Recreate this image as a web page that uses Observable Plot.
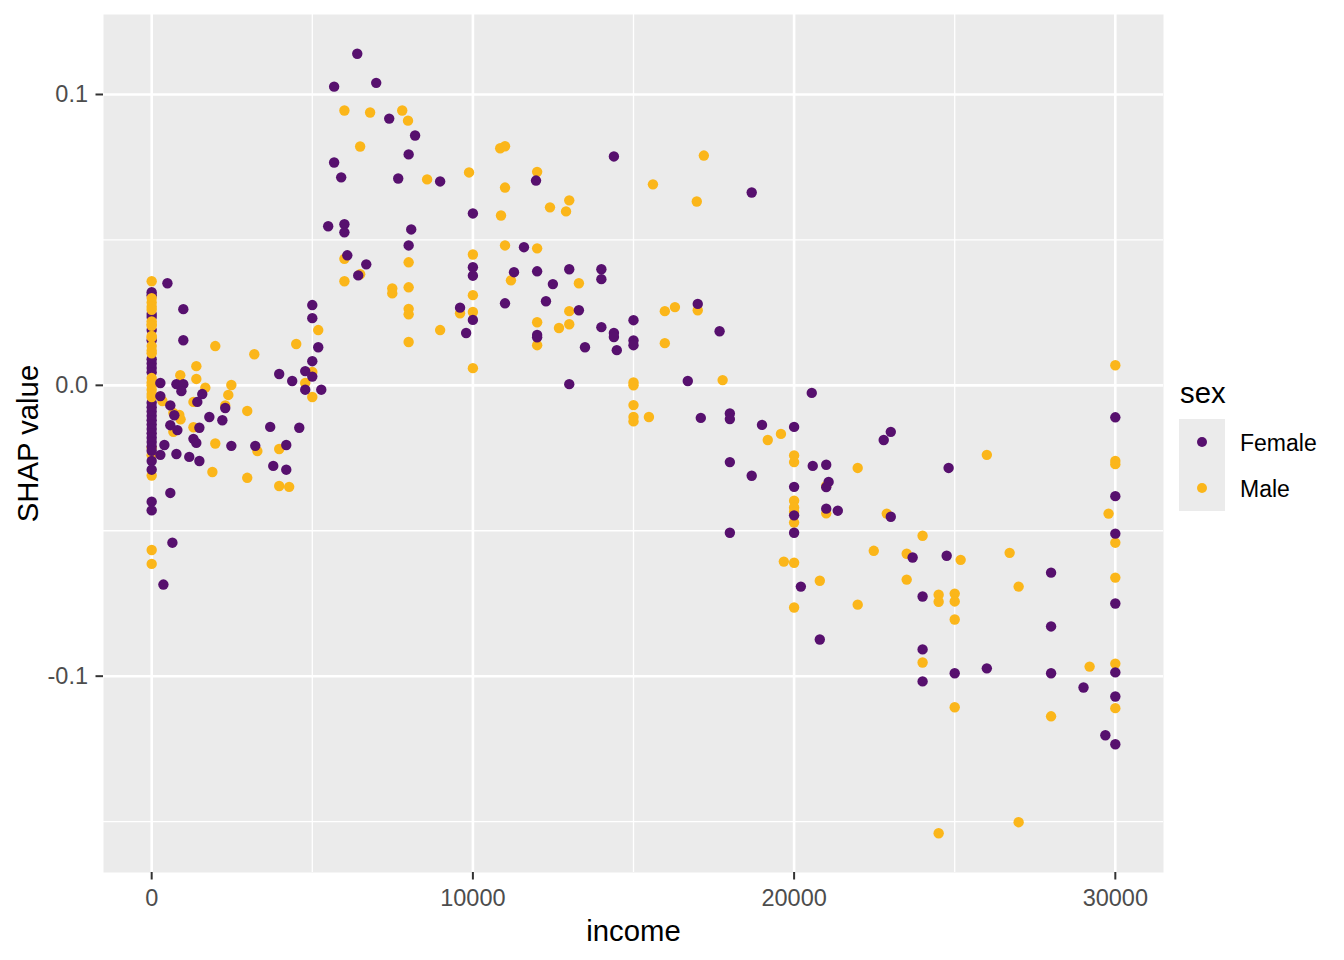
<!DOCTYPE html>
<html><head><meta charset="utf-8">
<script src="https://cdn.jsdelivr.net/npm/d3@7"></script>
<script src="https://cdn.jsdelivr.net/npm/@observablehq/plot@0.6"></script>
<style>
body{margin:0;background:#fff;font-family:"Liberation Sans",Arial,sans-serif;}
#wrap{position:relative;width:1344px;height:960px;overflow:hidden;}
#wrap svg{display:block;}
.lg-title{position:absolute;left:1180px;top:376px;font-size:29.3px;line-height:34px;color:#000;}
.lg-box{position:absolute;left:1179px;top:419px;width:46px;height:92px;background:#EBEBEB;}
.lg-dot{position:absolute;width:10px;height:10px;border-radius:50%;left:18px;}
.lg-label{position:absolute;left:1240px;font-size:23px;line-height:46px;color:#000;}
</style></head><body><div id="wrap"></div>
<script>
const sexes = ["Female", "Male"];
const sexColors = ["#57106E", "#FBB61A"];
const xTicks = [0, 10000, 20000, 30000];
const xMinor = [5000, 15000, 25000];
const yTicks = [-0.1, 0, 0.1];
const yMinor = [-0.15, -0.05, 0.05];
const xLabel = "income";
const yLabel = "SHAP value";
const legendTitle = "sex";

// [income, SHAP value]
const female = [
  [0,0.032],[0,0.031],[0,0.0245],[0,0.0235],[0,0.019],[0,0.0155],[0,0.009],[0,0.0075],[0,0.006],[0,0.0045],
  [0,-0.006],[0,-0.0075],[0,-0.009],[0,-0.0105],[0,-0.012],[0,-0.0135],[0,-0.015],[0,-0.0165],[0,-0.018],[0,-0.0195],
  [0,-0.021],[0,-0.0225],[0,-0.026],[0,-0.029],[0,-0.040],[0,-0.043],
  [490,0.0351],[985,0.0262],[985,0.0155],[5000,0.0276],[5000,0.0231],[5185,0.0131],[5000,0.0083],[4780,0.0049],
  [5000,0.0030],[4780,-0.0015],[5280,-0.0015],[3970,0.0039],[4375,0.0015],[270,0.0008],[770,0.0004],[985,0.0004],
  [925,-0.002],[1575,-0.003],[270,-0.0037],[1420,-0.0057],[580,-0.0069],[2290,-0.0078],[705,-0.0103],[1795,-0.0109],
  [2200,-0.012],[580,-0.0137],[800,-0.0154],[1485,-0.0146],[1300,-0.0184],[1390,-0.0198],[2480,-0.0208],[395,-0.0205],
  [270,-0.0239],[770,-0.0236],[1170,-0.0246],[1485,-0.026],[3225,-0.0208],[3690,-0.0143],[4595,-0.0146],[4190,-0.0205],
  [3785,-0.0277],[4190,-0.029],[580,-0.037],[645,-0.0541],[365,-0.0685],
  [6400,0.114],[5680,0.1027],[6990,0.104],[7395,0.0917],[8200,0.0859],[8000,0.0794],[5680,0.0766],[5900,0.0715],
  [7675,0.0711],[8980,0.0701],[10000,0.0591],[5495,0.0547],[6000,0.0554],[6000,0.0526],[8080,0.0536],[8000,0.0481],
  [6090,0.0447],[6680,0.0416],[10000,0.0406],[10000,0.0377],[6430,0.0378],[9600,0.0267],[10000,0.0225],[9790,0.018],
  [14390,0.0787],[11965,0.0704],[18680,0.0663],[11590,0.0475],[11280,0.0389],[12000,0.0392],[13000,0.0399],[14000,0.0399],
  [14000,0.0365],[12490,0.0348],[11000,0.0282],[12275,0.0289],[13300,0.0258],[17000,0.028],[12000,0.0173],[12000,0.0165],
  [14000,0.02],[14390,0.018],[14390,0.0166],[15000,0.0224],[15000,0.0154],[15000,0.0138],[13490,0.0131],[14480,0.0121],
  [17680,0.0186],[13000,0.0004],[16690,0.0015],
  [20550,-0.0026],[17095,-0.0112],[18000,-0.0097],[18000,-0.0116],[19000,-0.0136],[20000,-0.0143],[22790,-0.0188],[23010,-0.016],
  [18000,-0.0264],[20580,-0.0277],[21000,-0.0273],[18680,-0.0311],[21075,-0.0332],[21000,-0.035],[20000,-0.0349],[20000,-0.0447],
  [21000,-0.0424],[21360,-0.0431],[23010,-0.0452],[18000,-0.0507],[20000,-0.0507],[20210,-0.0692],[20800,-0.0874],[24810,-0.0284],
  [30000,-0.011],[30000,-0.0381],[30000,-0.051],[23690,-0.0592],[24750,-0.0586],[28000,-0.0644],[24000,-0.0726],[30000,-0.075],
  [28000,-0.0829],[24000,-0.0908],[26000,-0.0973],[25000,-0.099],[28000,-0.099],[30000,-0.0987],[24000,-0.1018],[29010,-0.1039],
  [30000,-0.107],[29690,-0.1203],[30000,-0.1234]
];

const male = [
  [0,0.0358],[0,0.030],[0,0.0285],[0,0.027],[0,0.026],[0,0.022],[0,0.021],[0,0.0205],[0,0.017],[0,0.0165],
  [0,0.0135],[0,0.012],[0,0.011],[0,0.0025],[0,0.001],[0,0.0],[0,-0.0015],[0,-0.003],[0,-0.004],[0,-0.0215],
  [0,-0.024],[0,-0.031],[0,-0.0566],[0,-0.0614],
  [1980,0.0135],[3195,0.0107],[4500,0.0142],[5185,0.019],[5000,0.0046],[4780,0.0008],[5000,-0.004],[1390,0.0066],
  [890,0.0035],[1390,0.0022],[1670,-0.0008],[2480,0.0001],[2385,-0.0033],[333,-0.0054],[1300,-0.0057],[2290,-0.0069],
  [2975,-0.0088],[675,-0.0095],[860,-0.0102],[900,-0.0117],[675,-0.016],[1300,-0.0144],[1980,-0.020],[1890,-0.0298],
  [3290,-0.0226],[3970,-0.0219],[3970,-0.0346],[4280,-0.0349],[2975,-0.0318],
  [6000,0.0945],[6800,0.0938],[7800,0.0945],[7980,0.091],[6490,0.0821],[8575,0.0708],[9880,0.0732],[10000,0.045],
  [6000,0.0435],[8000,0.0423],[6490,0.0382],[6000,0.0358],[7490,0.0333],[7490,0.0316],[8000,0.0337],[10000,0.031],
  [8000,0.0263],[8000,0.0244],[9600,0.0248],[10000,0.0252],[8980,0.019],[8000,0.0149],[10000,0.0059],
  [10850,0.0815],[11000,0.0822],[17190,0.079],[12000,0.0734],[11000,0.068],[15605,0.0691],[16970,0.0632],[13000,0.0636],
  [12400,0.0612],[12900,0.0598],[10875,0.0584],[11000,0.0481],[12000,0.0471],[11185,0.0361],[13300,0.0351],[13000,0.0255],
  [15975,0.0255],[16290,0.0269],[17000,0.0258],[12000,0.0217],[12680,0.0197],[13000,0.021],[12000,0.0138],[15975,0.0145],
  [15000,0.001],[15000,0.0],[17775,0.0018],
  [15000,-0.0068],[15000,-0.0109],[15000,-0.0124],[15480,-0.0109],[19590,-0.0167],[19180,-0.0188],[20000,-0.0241],[20000,-0.0264],
  [21980,-0.0284],[21000,-0.0346],[20000,-0.0397],[20000,-0.042],[20000,-0.0435],[20000,-0.0472],[21000,-0.044],[22885,-0.0441],
  [22480,-0.0569],[19680,-0.0606],[20000,-0.061],[20800,-0.0672],[20000,-0.0764],[21980,-0.0754],
  [26000,-0.0239],[30000,0.0069],[30000,-0.026],[30000,-0.0271],[29790,-0.0441],[24000,-0.0517],[30000,-0.0541],[23505,-0.0579],
  [25185,-0.06],[26710,-0.0576],[30000,-0.0661],[23505,-0.0668],[26990,-0.0692],[24500,-0.072],[24500,-0.0744],[25000,-0.0716],
  [25000,-0.0743],[25000,-0.0805],[24000,-0.0953],[29200,-0.0967],[30000,-0.0957],[30000,-0.111],[25000,-0.1107],[28000,-0.1138],
  [26990,-0.1502],[24500,-0.154]
];

// interleave the two groups so the drawing order is mixed, as in the source
const rows = [];
const n = Math.max(female.length, male.length);
for (let i = 0; i < n; i++) {
  if (i < female.length) rows.push({income: female[i][0], shap: female[i][1], sex: sexes[0]});
  if (i < male.length) rows.push({income: male[i][0], shap: male[i][1], sex: sexes[1]});
}

const font = '"Liberation Sans", Arial, sans-serif';
const chart = Plot.plot({
  width: 1344, height: 960,
  marginLeft: 103, marginRight: 181, marginTop: 14, marginBottom: 88,
  style: {fontFamily: font, background: "#fff", overflow: "visible"},
  x: {domain: [-1500, 31500]},
  y: {domain: [-0.1675, 0.1275]},
  color: {domain: sexes, range: sexColors},
  marks: [
    Plot.frame({fill: "#EBEBEB", stroke: null}),
    Plot.gridX(xMinor, {stroke: "#fff", strokeOpacity: 1, strokeWidth: 1.3}),
    Plot.gridY(yMinor, {stroke: "#fff", strokeOpacity: 1, strokeWidth: 1.3}),
    Plot.gridX(xTicks, {stroke: "#fff", strokeOpacity: 1, strokeWidth: 2.6}),
    Plot.gridY(yTicks, {stroke: "#fff", strokeOpacity: 1, strokeWidth: 2.6}),
    Plot.dot(rows, {x: "income", y: "shap", fill: "sex", r: 5.2}),
    Plot.axisX(xTicks, {tickSize: 7.5, tickPadding: 9, stroke: "#333333", strokeWidth: 2, fill: "#4D4D4D",
      fontSize: 23.5, tickFormat: d => String(d), label: null}),
    Plot.axisY(yTicks, {tickSize: 7.5, tickPadding: 8, stroke: "#333333", strokeWidth: 2, fill: "#4D4D4D",
      fontSize: 23.5, tickFormat: d => d.toFixed(1), label: null}),
    Plot.text([xLabel], {frameAnchor: "bottom", textAnchor: "middle", dy: 68, fontSize: 29.3, fill: "#000"}),
    Plot.text([yLabel], {frameAnchor: "left", textAnchor: "middle", rotate: -90, dx: -75, fontSize: 29.3, fill: "#000"})
  ]
});
const wrap = document.getElementById("wrap");
wrap.appendChild(chart);

// legend
const t = document.createElement("div");
t.className = "lg-title"; t.textContent = legendTitle; wrap.appendChild(t);
const box = document.createElement("div");
box.className = "lg-box"; wrap.appendChild(box);
sexes.forEach((s, i) => {
  const d = document.createElement("div");
  d.className = "lg-dot";
  d.style.top = (18 + i * 46) + "px";
  d.style.background = sexColors[i];
  box.appendChild(d);
  const l = document.createElement("div");
  l.className = "lg-label";
  l.style.top = (420 + i * 46) + "px";
  l.textContent = s;
  wrap.appendChild(l);
});
</script>
</body></html>
